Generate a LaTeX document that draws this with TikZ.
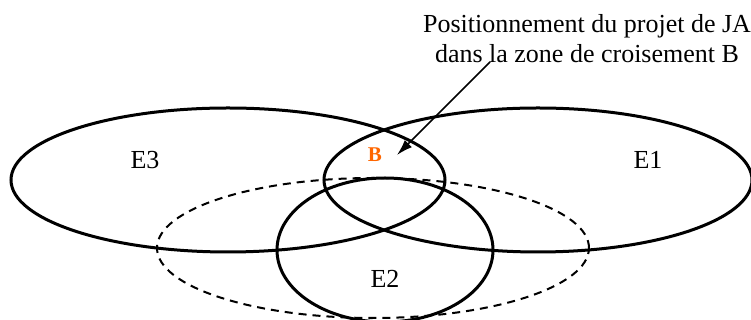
\documentclass[tikz,border=0pt]{standalone}
\usepackage{fontspec}
\setmainfont{Liberation Serif}
\usetikzlibrary{arrows.meta}

\definecolor{borange}{RGB}{255,102,0}

\begin{document}
\begin{tikzpicture}[x=0.5pt, y=0.5pt,
    setline/.style={line width=1.5pt},
    lbl/.style={font=\fontsize{13}{15}\selectfont, inner sep=0pt}]
    \useasboundingbox (0, 0) rectangle (751, 320);
    \clip (0, 0) rectangle (751, 320);

    % Sets
    \draw[setline] (228, 140) ellipse [x radius=217, y radius=72];
    \draw[setline] (538, 140) ellipse [x radius=214, y radius=72];
    \draw[setline] (385, 70) ellipse [x radius=108, y radius=72];
    \draw[line width=1pt, dash pattern=on 4pt off 3pt] (373, 72) ellipse [x radius=216, y radius=70];

    % Set labels
    \node[lbl] (e3) at (145, 160) {E3};
    \node[lbl] (e1) at (648, 160) {E1};
    \node[lbl] (e2) at (385, 41) {E2};
    \node[lbl, font=\fontsize{10.5}{12}\selectfont\bfseries, text=borange] (b) at (375, 165) {B};

    % Note and arrow
    \node[lbl, align=center, anchor=north] (note) at (587, 306)
        {Positionnement du projet de JA\\dans la zone de croisement B};
    \coordinate (arrowstart) at (490, 258);
    \coordinate (arrowend) at (397, 165);
    \draw[-{Latex[length=8pt, width=5pt]}, line width=0.75pt] (arrowstart) -- (arrowend);
\end{tikzpicture}
\end{document}
